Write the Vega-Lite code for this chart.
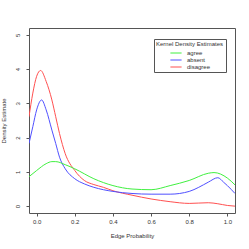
{
  "$schema": "https://vega.github.io/schema/vega-lite/v6.json",
  "width": 206,
  "height": 185,
  "autosize": "none",
  "padding": {"left": 29, "top": 28, "right": 14, "bottom": 36},
  "background": "white",
  "config": {
    "font": "Liberation Sans",
    "view": {"stroke": "#555", "strokeWidth": 1},
    "axis": {"grid": false, "domain": false, "tickColor": "#555", "tickSize": 3, "labelFontSize": 6, "titleFontSize": 6, "titleFontWeight": "normal", "labelColor": "#333", "titleColor": "#333"}
  },
  "data": {"values": [
    {"x": -0.04, "y": 2.61, "g": "disagree"},
    {"x": -0.02, "y": 3.3, "g": "disagree"},
    {"x": 0.0, "y": 3.79, "g": "disagree"},
    {"x": 0.021, "y": 3.96, "g": "disagree"},
    {"x": 0.05, "y": 3.64, "g": "disagree"},
    {"x": 0.08, "y": 3.1, "g": "disagree"},
    {"x": 0.1, "y": 2.61, "g": "disagree"},
    {"x": 0.12, "y": 2.12, "g": "disagree"},
    {"x": 0.15, "y": 1.53, "g": "disagree"},
    {"x": 0.2, "y": 1.04, "g": "disagree"},
    {"x": 0.25, "y": 0.75, "g": "disagree"},
    {"x": 0.3, "y": 0.63, "g": "disagree"},
    {"x": 0.35, "y": 0.55, "g": "disagree"},
    {"x": 0.4, "y": 0.45, "g": "disagree"},
    {"x": 0.5, "y": 0.32, "g": "disagree"},
    {"x": 0.6, "y": 0.21, "g": "disagree"},
    {"x": 0.7, "y": 0.13, "g": "disagree"},
    {"x": 0.8, "y": 0.08, "g": "disagree"},
    {"x": 0.9, "y": 0.1, "g": "disagree"},
    {"x": 0.95, "y": 0.07, "g": "disagree"},
    {"x": 1.0, "y": 0.02, "g": "disagree"},
    {"x": 1.04, "y": 0.0, "g": "disagree"},
    {"x": -0.04, "y": 1.83, "g": "absent"},
    {"x": -0.02, "y": 2.32, "g": "absent"},
    {"x": 0.0, "y": 2.81, "g": "absent"},
    {"x": 0.026, "y": 3.1, "g": "absent"},
    {"x": 0.05, "y": 2.81, "g": "absent"},
    {"x": 0.08, "y": 2.22, "g": "absent"},
    {"x": 0.1, "y": 1.83, "g": "absent"},
    {"x": 0.12, "y": 1.43, "g": "absent"},
    {"x": 0.15, "y": 1.09, "g": "absent"},
    {"x": 0.2, "y": 0.8, "g": "absent"},
    {"x": 0.25, "y": 0.65, "g": "absent"},
    {"x": 0.3, "y": 0.55, "g": "absent"},
    {"x": 0.4, "y": 0.43, "g": "absent"},
    {"x": 0.5, "y": 0.37, "g": "absent"},
    {"x": 0.6, "y": 0.35, "g": "absent"},
    {"x": 0.7, "y": 0.35, "g": "absent"},
    {"x": 0.8, "y": 0.43, "g": "absent"},
    {"x": 0.85, "y": 0.55, "g": "absent"},
    {"x": 0.9, "y": 0.7, "g": "absent"},
    {"x": 0.95, "y": 0.83, "g": "absent"},
    {"x": 0.98, "y": 0.7, "g": "absent"},
    {"x": 1.0, "y": 0.6, "g": "absent"},
    {"x": 1.04, "y": 0.37, "g": "absent"},
    {"x": -0.04, "y": 0.86, "g": "agree"},
    {"x": 0.0, "y": 1.04, "g": "agree"},
    {"x": 0.05, "y": 1.24, "g": "agree"},
    {"x": 0.08, "y": 1.3, "g": "agree"},
    {"x": 0.1, "y": 1.3, "g": "agree"},
    {"x": 0.15, "y": 1.21, "g": "agree"},
    {"x": 0.2, "y": 1.09, "g": "agree"},
    {"x": 0.3, "y": 0.8, "g": "agree"},
    {"x": 0.4, "y": 0.6, "g": "agree"},
    {"x": 0.5, "y": 0.5, "g": "agree"},
    {"x": 0.6, "y": 0.48, "g": "agree"},
    {"x": 0.7, "y": 0.6, "g": "agree"},
    {"x": 0.8, "y": 0.75, "g": "agree"},
    {"x": 0.9, "y": 0.96, "g": "agree"},
    {"x": 0.93, "y": 0.98, "g": "agree"},
    {"x": 1.0, "y": 0.82, "g": "agree"},
    {"x": 1.04, "y": 0.62, "g": "agree"}
  ]},
  "mark": {"type": "line", "interpolate": "monotone", "strokeWidth": 1, "clip": true},
  "encoding": {
    "x": {"field": "x", "type": "quantitative", "title": "Edge Probability",
      "scale": {"domain": [-0.04, 1.04], "nice": false, "zero": false},
      "axis": {"values": [0, 0.2, 0.4, 0.6, 0.8, 1.0], "format": ".1f", "labelPadding": 2, "titlePadding": 8}},
    "y": {"field": "y", "type": "quantitative", "title": "Density Estimate",
      "scale": {"domain": [-0.2, 5.2], "nice": false, "zero": false},
      "axis": {"values": [0, 1, 2, 3, 4, 5], "format": "d", "labelAngle": -90, "labelAlign": "center", "labelBaseline": "bottom", "labelPadding": 6, "titlePadding": 8}},
    "color": {"field": "g", "type": "nominal",
      "scale": {"domain": ["agree", "absent", "disagree"], "range": ["#40f040", "#5050ff", "#ff5050"]},
      "legend": {"title": "Kernel Density Estimates", "orient": "none", "legendX": 125, "legendY": 11,
        "strokeColor": "#555", "fillColor": "white", "padding": 2, "titleFontSize": 6, "titleFontWeight": "normal", "titleColor": "#333",
        "labelFontSize": 6, "labelColor": "#333", "symbolType": "M-1.6,0H1.6", "symbolSize": 49, "symbolStrokeWidth": 1,
        "symbolOffset": 16, "labelOffset": 7, "rowPadding": 0, "titlePadding": 2}}
  }
}
